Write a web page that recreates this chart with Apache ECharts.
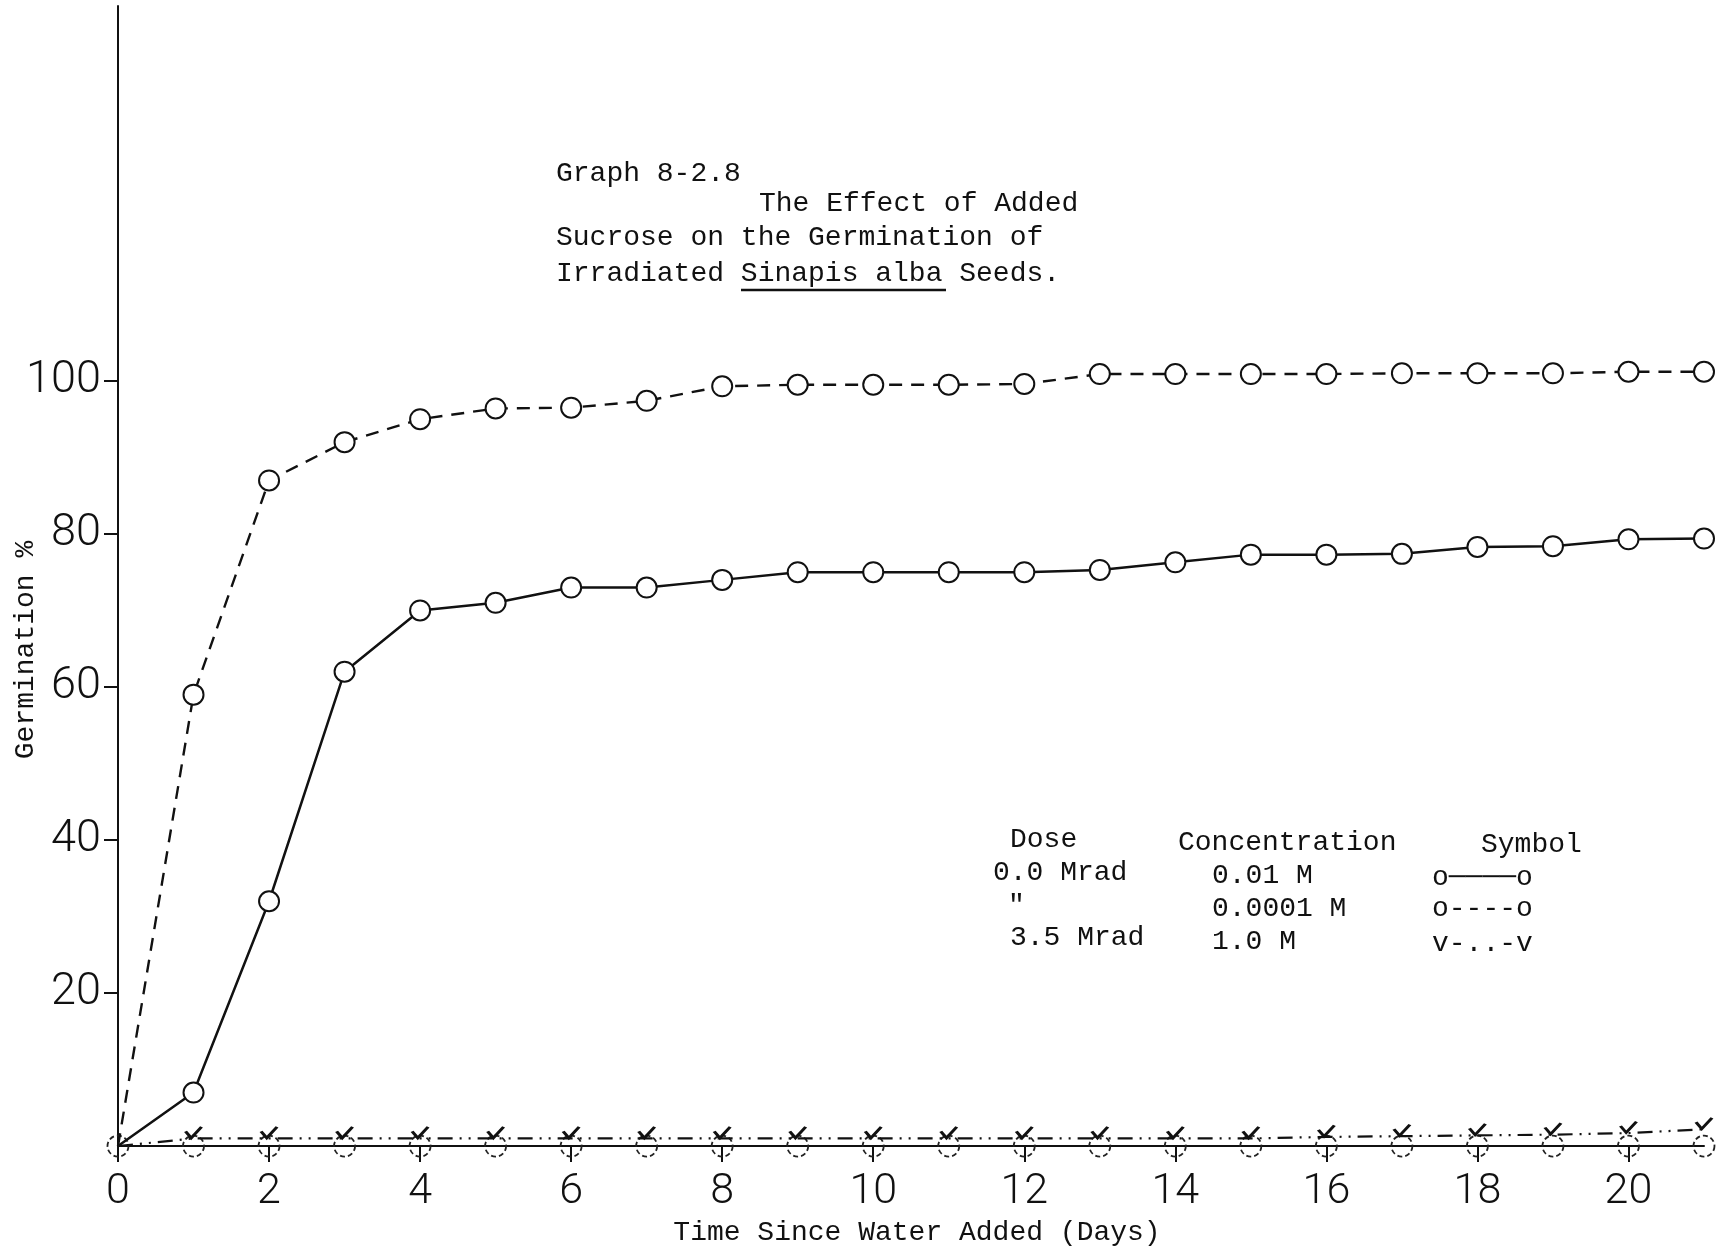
<!DOCTYPE html>
<html>
<head>
<meta charset="utf-8">
<title>Graph 8-2.8</title>
<script src="https://cdn.jsdelivr.net/npm/echarts@6/dist/echarts.min.js"></script>
<style>
  html, body { margin: 0; padding: 0; background: #ffffff; }
  #chart { width: 1727px; height: 1252px; }
</style>
</head>
<body>
<div id="chart"></div>
<script>
// Days since water was added
const days = [0, 1, 2, 3, 4, 5, 6, 7, 8, 9, 10, 11, 12, 13, 14, 15, 16, 17, 18, 19, 20, 21];

// 0.0 Mrad, 0.01 M sucrose (solid line, open circles)
const germ001M = [0, 7, 32, 62, 70, 71, 73, 73, 74, 75, 75, 75, 75, 75.3, 76.3, 77.3, 77.3, 77.4, 78.3, 78.4, 79.3, 79.4];

// 0.0 Mrad, 0.0001 M sucrose (dashed line, open circles)
const germ00001M = [0, 59, 87, 92, 95, 96.4, 96.5, 97.4, 99.3, 99.5, 99.5, 99.5, 99.6, 100.9, 100.9, 100.9, 100.9, 101, 101, 101, 101.2, 101.2];

// 3.5 Mrad, 1.0 M sucrose (dash-dot line, v marks)
const germIrradiated = [0, 1, 1, 1, 1, 1, 1, 1, 1, 1, 1, 1, 1, 1, 1, 1, 1.2, 1.3, 1.4, 1.5, 1.7, 2.2];

// Open circles lying on the baseline
const germBaseline = [0, 0, 0, 0, 0, 0, 0, 0, 0, 0, 0, 0, 0, 0, 0, 0, 0, 0, 0, 0, 0, 0];

const xTicks = [0, 2, 4, 6, 8, 10, 12, 14, 16, 18, 20];
const yTicks = [20, 40, 60, 80, 100];

const INK = '#111111';
const TYPE_FONT = '"Liberation Mono", "DejaVu Sans Mono", monospace';
const AXIS_FONT = 'Roboto, "Liberation Sans", sans-serif';

// [day, value] pairs; the shared origin point carries no symbol
const pairs = (vals, hideOrigin) => days.map((d, i) =>
  (hideOrigin && i === 0) ? { value: [d, vals[i]], symbol: 'none' } : [d, vals[i]]);

const chart = echarts.init(document.getElementById('chart'), null, { renderer: 'canvas' });

function typed(text, x, y, size) {
  return {
    type: 'text',
    x: x, y: y,
    style: {
      text: text,
      font: (size || 28) + 'px ' + TYPE_FONT,
      fill: INK,
      textAlign: 'left',
      textVerticalAlign: 'middle'
    }
  };
}

const option = {
  backgroundColor: '#ffffff',
  animation: false,
  grid: { left: 118, right: 23, top: 6, bottom: 103 },
  xAxis: {
    type: 'value',
    min: 0,
    max: 21,
    interval: 2,
    name: 'Time Since Water Added (Days)',
    nameLocation: 'middle',
    nameGap: 63,
    nameTextStyle: { fontFamily: TYPE_FONT, fontSize: 28, color: INK, padding: [0, 0, 0, 12] },
    axisLine: { show: true, onZero: false, lineStyle: { color: INK, width: 2 } },
    axisTick: { show: true, inside: false, length: 16, customValues: xTicks, lineStyle: { color: INK, width: 2 } },
    axisLabel: {
      customValues: xTicks,
      margin: 25,
      fontFamily: AXIS_FONT,
      fontWeight: 300,
      fontSize: 43,
      color: INK
    },
    splitLine: { show: false }
  },
  yAxis: {
    type: 'value',
    min: 0,
    max: 149,
    interval: 20,
    axisLine: { show: true, onZero: false, lineStyle: { color: INK, width: 2 } },
    axisTick: { show: true, inside: false, length: 14, customValues: yTicks, lineStyle: { color: INK, width: 2 } },
    axisLabel: {
      customValues: yTicks,
      margin: 17,
      fontFamily: AXIS_FONT,
      fontWeight: 300,
      fontSize: 45,
      color: INK
    },
    splitLine: { show: false }
  },
  series: [
    {
      name: '3.5 Mrad baseline',
      type: 'line',
      data: pairs(germBaseline, false),
      symbol: 'circle',
      symbolSize: 21,
      lineStyle: { width: 0, opacity: 0 },
      itemStyle: { color: 'rgba(255,255,255,0)', borderColor: '#222', borderWidth: 1.8, borderType: [5, 3] },
      z: 2
    },
    {
      name: '3.5 Mrad, 1.0 M',
      type: 'line',
      data: pairs(germIrradiated, true),
      symbol: 'path://M0,4 L5,10 L14,0',
      symbolSize: [16, 11],
      symbolOffset: [0, -6],
      lineStyle: { color: INK, width: 2.2, type: [15, 7, 2, 7, 2, 7] },
      itemStyle: { color: 'rgba(255,255,255,0)', borderColor: INK, borderWidth: 2.8 },
      z: 3
    },
    {
      name: '0.0 Mrad, 0.0001 M',
      type: 'line',
      data: pairs(germ00001M, true),
      symbol: 'emptyCircle',
      symbolSize: 20,
      lineStyle: { color: INK, width: 2.4, type: [13, 9] },
      itemStyle: { color: INK, borderColor: INK, borderWidth: 2.3 },
      z: 4
    },
    {
      name: '0.0 Mrad, 0.01 M',
      type: 'line',
      data: pairs(germ001M, true),
      symbol: 'emptyCircle',
      symbolSize: 20,
      lineStyle: { color: INK, width: 2.5, type: 'solid' },
      itemStyle: { color: INK, borderColor: INK, borderWidth: 2.4 },
      z: 5
    }
  ],
  graphic: [
    // title block
    typed('Graph 8-2.8', 556, 174),
    typed('The Effect of Added', 759, 204),
    typed('Sucrose on the Germination of', 556, 238),
    typed('Irradiated Sinapis alba Seeds.', 556, 274),
    {
      type: 'line',
      shape: { x1: 741, y1: 290, x2: 946, y2: 290 },
      style: { stroke: INK, lineWidth: 2.5 }
    },
    // y axis title
    {
      type: 'text',
      x: 26, y: 650,
      rotation: Math.PI / 2,
      style: {
        text: 'Germination %',
        font: '28px ' + TYPE_FONT,
        fill: INK,
        textAlign: 'center',
        textVerticalAlign: 'middle'
      }
    },
    // key table
    typed('Dose', 1010, 840),
    typed('Concentration', 1178, 843),
    typed('Symbol', 1481, 845),
    typed('0.0 Mrad', 993, 873),
    typed('0.01 M', 1212, 876),
    typed('o\u2500\u2500\u2500\u2500o', 1432, 878),
    typed('"', 1008, 906),
    typed('0.0001 M', 1212, 909),
    typed('o----o', 1432, 909),
    typed('3.5 Mrad', 1010, 938),
    typed('1.0 M', 1212, 942),
    typed('v-..-v', 1432, 944)
  ]
};

chart.setOption(option);
</script>
</body>
</html>
